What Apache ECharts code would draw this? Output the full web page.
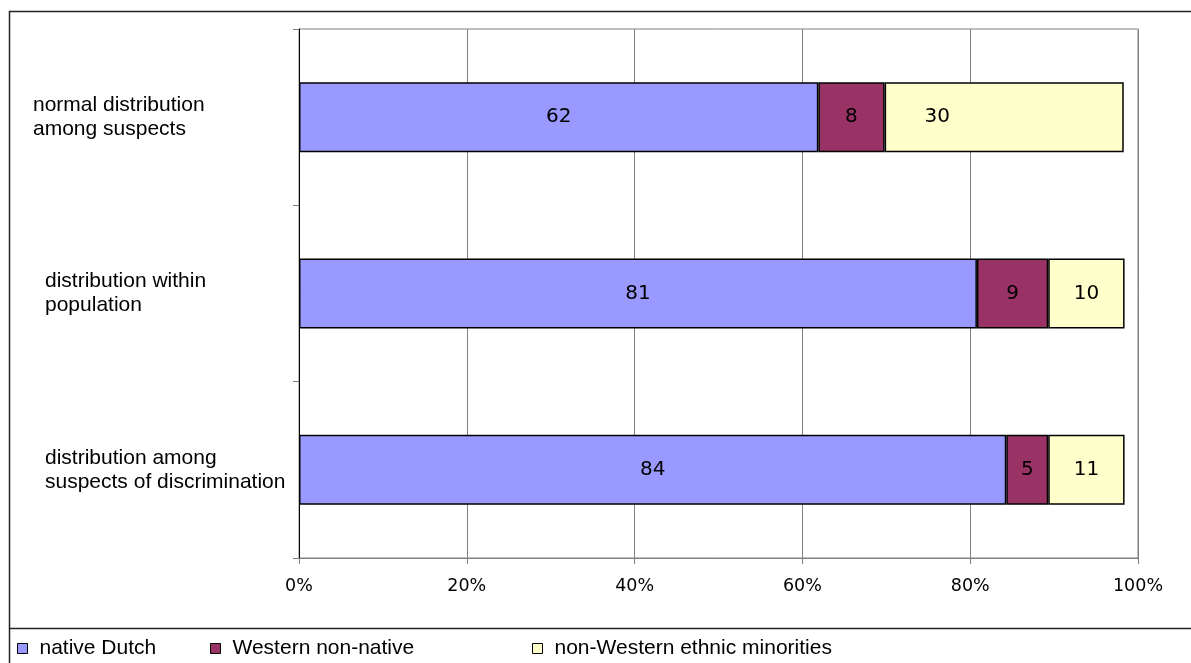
<!DOCTYPE html>
<html>
<head>
<meta charset="utf-8">
<script src="https://cdn.jsdelivr.net/npm/echarts@6/dist/echarts.min.js"></script>
<style>
  html, body { margin: 0; padding: 0; background: #fff; }
  #chart { width: 1191px; height: 663px; }
</style>
</head>
<body>
<div id="chart"></div>
<script>
// Categories listed bottom -> top (ECharts category order)
const categories = [
  'distribution among\nsuspects of discrimination',
  'distribution within\npopulation',
  'normal distribution\namong suspects'
];
const seriesNames = ['native Dutch', 'Western non-native', 'non-Western ethnic minorities'];
// bar lengths (in % of axis)
const nativeDutch = [84.3, 80.8, 61.9];
const westernNonNative = [5.0, 8.5, 7.9];
const nonWestern = [9.1, 9.1, 28.5];
// printed data labels
const nativeDutchLabels = [84, 81, 62];
const westernNonNativeLabels = [5, 9, 8];
const nonWesternLabels = [11, 10, 30];
const xTicks = [0, 20, 40, 60, 80, 100];

const colors = ['#9999FF', '#993366', '#FFFFCC'];
const values = [nativeDutch, westernNonNative, nonWestern];
const labels = [nativeDutchLabels, westernNonNativeLabels, nonWesternLabels];

const labelFont = "'DejaVu Sans', Verdana, sans-serif";
const textFont = "'Liberation Sans', Arial, sans-serif";

const series = seriesNames.map((name, s) => ({
  name: name,
  type: 'bar',
  stack: 'total',
  barWidth: 70,
  itemStyle: { color: colors[s], borderColor: '#000', borderWidth: 1.5 },
  label: {
    show: true,
    position: 'inside',
    color: '#000',
    fontFamily: labelFont,
    fontSize: 20,
    formatter: p => String(labels[s][p.dataIndex])
  },
  data: values[s].map((v, i) => {
    const d = { value: v };
    if (s === 2 && labels[s][i] === 30) {
      d.label = { position: 'insideLeft', distance: 40 };
    }
    return d;
  })
}));

const chart = echarts.init(document.getElementById('chart'));
chart.setOption({
  animation: false,
  backgroundColor: '#fff',
  graphic: [
    { type: 'line', shape: { x1: 9, y1: 11.5, x2: 1191, y2: 11.5 }, style: { stroke: '#222', lineWidth: 1.5 } },
    { type: 'line', shape: { x1: 9.5, y1: 11, x2: 9.5, y2: 663 }, style: { stroke: '#222', lineWidth: 1.5 } },
    { type: 'line', shape: { x1: 9, y1: 628.5, x2: 1191, y2: 628.5 }, style: { stroke: '#222', lineWidth: 1.5 } }
  ],
  grid: {
    left: 299, top: 29, right: 53, bottom: 105,
    show: true, borderColor: '#808080', borderWidth: 1, backgroundColor: 'transparent'
  },
  legend: seriesNames.map((n, i) => ({
    data: [n],
    left: [17, 210, 532][i],
    top: 638,
    padding: 0,
    icon: 'rect',
    itemWidth: 10,
    itemHeight: 10,
    itemStyle: { borderColor: '#000', borderWidth: 1 },
    textStyle: { fontFamily: textFont, fontSize: 21, color: '#000', padding: [0, 0, 0, 7] }
  })),
  xAxis: {
    type: 'value',
    min: xTicks[0],
    max: xTicks[xTicks.length - 1],
    interval: xTicks[1] - xTicks[0],
    axisLine: { show: true, lineStyle: { color: '#808080', width: 1 } },
    axisTick: { show: true, length: 6, lineStyle: { color: '#808080' } },
    splitLine: { show: true, lineStyle: { color: '#808080', width: 1 } },
    axisLabel: {
      margin: 19,
      color: '#000',
      fontFamily: labelFont,
      fontSize: 17.5,
      formatter: v => v + '%'
    }
  },
  yAxis: {
    type: 'category',
    data: categories,
    axisLine: { show: true, lineStyle: { color: '#000', width: 1 } },
    axisTick: { show: true, length: 6, alignWithLabel: false, lineStyle: { color: '#808080' } },
    splitLine: { show: false },
    axisLabel: {
      align: 'left',
      margin: 266,
      color: '#000',
      fontFamily: textFont,
      fontSize: 21,
      lineHeight: 24,
      formatter: (v, i) => {
        const key = (i === 2) ? 'a' : 'b';
        return v.split('\n').map(l => '{' + key + '|' + l + '}').join('\n');
      },
      rich: {
        a: { fontFamily: textFont, fontSize: 21, lineHeight: 24, color: '#000' },
        b: { fontFamily: textFont, fontSize: 21, lineHeight: 24, color: '#000', padding: [0, 0, 0, 12] }
      }
    }
  },
  series: series
});
</script>
</body>
</html>
